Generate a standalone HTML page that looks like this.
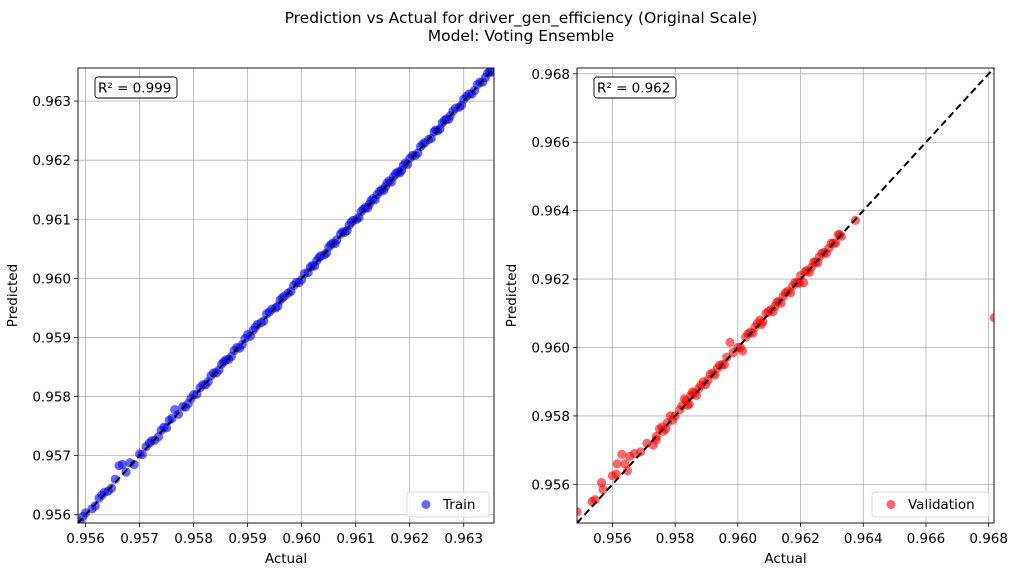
<!DOCTYPE html>
<html><head><meta charset="utf-8"><style>
body{margin:0;background:#fff;font-family:"DejaVu Sans","Liberation Sans",sans-serif}
svg{display:block}
</style></head><body>
<svg id="fig" width="1017" height="576" xmlns="http://www.w3.org/2000/svg" font-family="DejaVu Sans, Liberation Sans, sans-serif">
<rect width="1017" height="576" fill="#fff"/>
<text x="521" y="23" text-anchor="middle" font-size="15.5">Prediction vs Actual for driver_gen_efficiency (Original Scale)</text>
<text x="521" y="41" text-anchor="middle" font-size="15.5">Model: Voting Ensemble</text>
</svg>
<script>
const trainActual=[0.95590,0.95600,0.95612,0.95625,0.95635,0.95648,0.95655,0.95662,0.95668,0.95675,0.95682,0.95690,0.95700,0.95712,0.95722,0.95735,0.95745,0.95755,0.95765,0.95772,0.95780,0.95790,0.95800,0.95812,0.95822,0.95832,0.95842,0.95852,0.95860,0.95870,0.95880,0.95890,0.95900,0.95910,0.95918,0.95925,0.95935,0.95945,0.95952,0.95960,0.95968,0.95975,0.95985,0.95995,0.96005,0.96012,0.96020,0.96028,0.96035,0.96042,0.96050,0.96058,0.96065,0.96072,0.96080,0.96088,0.96095,0.96102,0.96110,0.96118,0.96125,0.96132,0.96140,0.96148,0.96155,0.96162,0.96170,0.96178,0.96185,0.96192,0.96200,0.96210,0.96220,0.96228,0.96235,0.96245,0.96252,0.96260,0.96268,0.96275,0.96285,0.96292,0.96300,0.96310,0.96320,0.96330,0.96340,0.96348,
0.95595,0.95618,0.95630,0.95642,0.95705,0.95718,0.95728,0.95740,0.95750,0.95760,0.95785,0.95795,0.95806,0.95817,0.95827,0.95837,0.95847,0.95856,0.95865,0.95875,0.95885,0.95895,0.95905,0.95914,0.95930,0.95940,0.95956,0.95964,0.95980,0.95990,0.96000,0.96016,0.96024,0.96032,0.96046,0.96054,0.96062,0.96076,0.96084,0.96092,0.96106,0.96114,0.96122,0.96128,0.96136,0.96144,0.96152,0.96158,0.96166,0.96174,0.96182,0.96188,0.96196,0.96205,0.96215,0.96224,0.96240,0.96248,0.96256,0.96264,0.96272,0.96280,0.96296,0.96305,0.96315,0.96325,0.96335,0.96344,0.96352];
const trainPred=[0.95588,0.95603,0.95610,0.95628,0.95638,0.95645,0.95660,0.95683,0.95685,0.95672,0.95688,0.95685,0.95703,0.95715,0.95725,0.95732,0.95748,0.95760,0.95778,0.95770,0.95783,0.95788,0.95803,0.95815,0.95820,0.95835,0.95840,0.95855,0.95862,0.95868,0.95883,0.95888,0.95905,0.95912,0.95922,0.95925,0.95940,0.95948,0.95950,0.95963,0.95970,0.95975,0.95988,0.95993,0.96008,0.96010,0.96022,0.96030,0.96038,0.96040,0.96053,0.96060,0.96065,0.96075,0.96078,0.96090,0.96098,0.96100,0.96113,0.96120,0.96125,0.96135,0.96142,0.96150,0.96155,0.96165,0.96172,0.96180,0.96183,0.96195,0.96203,0.96208,0.96223,0.96230,0.96235,0.96248,0.96250,0.96263,0.96270,0.96275,0.96288,0.96290,0.96303,0.96312,0.96318,0.96332,0.96340,0.96350,
0.95597,0.95615,0.95633,0.95640,0.95702,0.95721,0.95726,0.95743,0.95747,0.95763,0.95782,0.95797,0.95804,0.95820,0.95825,0.95840,0.95845,0.95859,0.95863,0.95878,0.95882,0.95898,0.95902,0.95917,0.95928,0.95943,0.95953,0.95967,0.95978,0.95993,0.95998,0.96019,0.96021,0.96035,0.96043,0.96057,0.96059,0.96079,0.96081,0.96095,0.96103,0.96117,0.96119,0.96131,0.96133,0.96147,0.96149,0.96161,0.96163,0.96177,0.96179,0.96191,0.96193,0.96208,0.96212,0.96227,0.96237,0.96251,0.96253,0.96267,0.96269,0.96283,0.96293,0.96308,0.96312,0.96328,0.96332,0.96347,0.96349];
const valActual=[0.95487,0.95535,0.95545,0.95565,0.95570,0.95600,0.95612,0.95615,0.95630,0.95640,0.95648,0.95655,0.95670,0.95690,0.95710,0.95730,0.95740,0.95750,0.95762,0.95775,0.95785,0.95800,0.95815,0.95830,0.95840,0.95850,0.95862,0.95875,0.95890,0.95905,0.95920,0.95935,0.95950,0.95965,0.95975,0.95985,0.96000,0.96015,0.96025,0.96040,0.96055,0.96070,0.96080,0.96090,0.96105,0.96118,0.96130,0.96145,0.96160,0.96175,0.96190,0.96200,0.96210,0.96220,0.96235,0.96248,0.96260,0.96275,0.96290,0.96305,0.96320,0.96330,0.96375,0.96818,
0.95740,0.95758,0.95770,0.95792,0.95822,0.95835,0.95845,0.95855,0.95868,0.95882,0.95897,0.95912,0.95927,0.95942,0.95957,0.96008,0.96032,0.96048,0.96062,0.96075,0.96098,0.96112,0.96124,0.96138,0.96152,0.96168,0.96182,0.96196,0.96215,0.96228,0.96242,0.96255,0.96268,0.96282,0.96298,0.96312,0.96325];
const valPred=[0.95520,0.95550,0.95555,0.95605,0.95585,0.95625,0.95630,0.95660,0.95688,0.95660,0.95640,0.95682,0.95690,0.95695,0.95720,0.95715,0.95740,0.95762,0.95755,0.95780,0.95800,0.95800,0.95818,0.95850,0.95832,0.95860,0.95868,0.95880,0.95900,0.95905,0.95925,0.95940,0.95950,0.95972,0.96015,0.95985,0.96000,0.95990,0.96030,0.96045,0.96060,0.96080,0.96075,0.96100,0.96110,0.96120,0.96135,0.96150,0.96165,0.96180,0.96190,0.96210,0.96190,0.96225,0.96235,0.96250,0.96265,0.96278,0.96290,0.96305,0.96330,0.96325,0.96372,0.96087,
0.95730,0.95768,0.95762,0.95788,0.95830,0.95845,0.95835,0.95870,0.95860,0.95890,0.95892,0.95922,0.95920,0.95948,0.95950,0.96000,0.96040,0.96042,0.96070,0.96068,0.96105,0.96105,0.96132,0.96130,0.96160,0.96160,0.96190,0.96188,0.96222,0.96220,0.96250,0.96248,0.96275,0.96275,0.96305,0.96305,0.96330];
const leftTicks=["0.956","0.957","0.958","0.959","0.960","0.961","0.962","0.963"];
const rightTicks=["0.956","0.958","0.960","0.962","0.964","0.966","0.968"];

const svg=document.getElementById('fig');
const NS="http://www.w3.org/2000/svg";
function mk(tag,attrs,parent){const e=document.createElementNS(NS,tag);for(const k in attrs)e.setAttribute(k,attrs[k]);(parent||svg).appendChild(e);return e;}

function panel(cfg){
  const {x0,x1,y0,y1,min,max,ticks,xs,ys,color,label,r2,name,legW}=cfg;
  const g=mk('g',{});
  
  
  const sx=v=>x0+(v-min)/(max-min)*(x1-x0);
  const sy=v=>y1-(v-min)/(max-min)*(y1-y0);
  const clipId=name+'-clip';
  const cp=mk('clipPath',{id:clipId},g);mk('rect',{x:x0,y:y0,width:x1-x0,height:y1-y0},cp);
  ticks.forEach(t=>{
    const v=parseFloat(t);
    const gx=mk('line',{x1:sx(v),x2:sx(v),y1:y0,y2:y1,stroke:'#b0b0b0','stroke-width':0.8},g);
    
    
    const gy=mk('line',{x1:x0,x2:x1,y1:sy(v),y2:sy(v),stroke:'#b0b0b0','stroke-width':0.8},g);
    
    
    mk('line',{x1:sx(v),x2:sx(v),y1:y1,y2:y1+4,stroke:'#000','stroke-width':0.8},g);
    mk('line',{x1:x0-4,x2:x0,y1:sy(v),y2:sy(v),stroke:'#000','stroke-width':0.8},g);
    const tx=mk('text',{x:sx(v),y:y1+20,'text-anchor':'middle','font-size':13.5},g);tx.textContent=t;
    
    
    const ty=mk('text',{x:x0-7,y:sy(v)+5,'text-anchor':'end','font-size':13.5},g);ty.textContent=t;
    
    
  });
  const pts=mk('g',{'clip-path':'url(#'+clipId+')'},g);
  
  
  xs.forEach((v,i)=>{
    const c=mk('circle',{cx:sx(v),cy:sy(ys[i]),r:4.6,fill:color,'fill-opacity':0.6},pts);
    
    
  });
  const dl=mk('line',{x1:sx(min),y1:sy(min),x2:sx(max),y2:sy(max),stroke:'#000','stroke-width':2,'stroke-dasharray':'7,4','clip-path':'url(#'+clipId+')'},g);
  
  
  mk('rect',{x:x0,y:y0,width:x1-x0,height:y1-y0,fill:'none',stroke:'#000','stroke-width':0.9},g);
  const xl=mk('text',{x:(x0+x1)/2,y:y1+40,'text-anchor':'middle','font-size':13.5},g);xl.textContent='Actual';
  
  
  const yx=x0-61, yy=(y0+y1)/2;
  const yl=mk('text',{x:yx,y:yy,'text-anchor':'middle','font-size':13.5,transform:`rotate(-90 ${yx} ${yy})`},g);yl.textContent='Predicted';
  
  
  const rb=mk('rect',{x:x0+17,y:y0+9,width:82,height:21,rx:3,fill:'#fff',stroke:'#000','stroke-width':0.9},g);
  
  
  const rt=mk('text',{x:x0+20,y:y0+24.5,'font-size':13.5},g);rt.textContent=r2;
  
  
  const lg=mk('g',{},g);
  
  
  mk('rect',{x:x1-legW-5,y:y1-31,width:legW,height:25,rx:3,fill:'#fff','fill-opacity':0.8,stroke:'#ddd','stroke-width':0.9},lg);
  mk('circle',{cx:x1-legW+14,cy:y1-18.5,r:4.5,fill:color,'fill-opacity':0.6},lg);
  const lt=mk('text',{x:x1-legW+31,y:y1-14,'font-size':13.5},lg);lt.textContent=label;
  
  
}
panel({x0:78,x1:494,y0:68,y1:523,min:0.95586,max:0.96356,ticks:leftTicks,xs:trainActual,ys:trainPred,color:'#0000ff',label:'Train',r2:'R² = 0.999',name:'train-panel',legW:82});
panel({x0:577,x1:994,y0:68,y1:523,min:0.95487,max:0.96817,ticks:rightTicks,xs:valActual,ys:valPred,color:'#ff0000',label:'Validation',r2:'R² = 0.962',name:'validation-panel',legW:117});
</script>
</body></html>
